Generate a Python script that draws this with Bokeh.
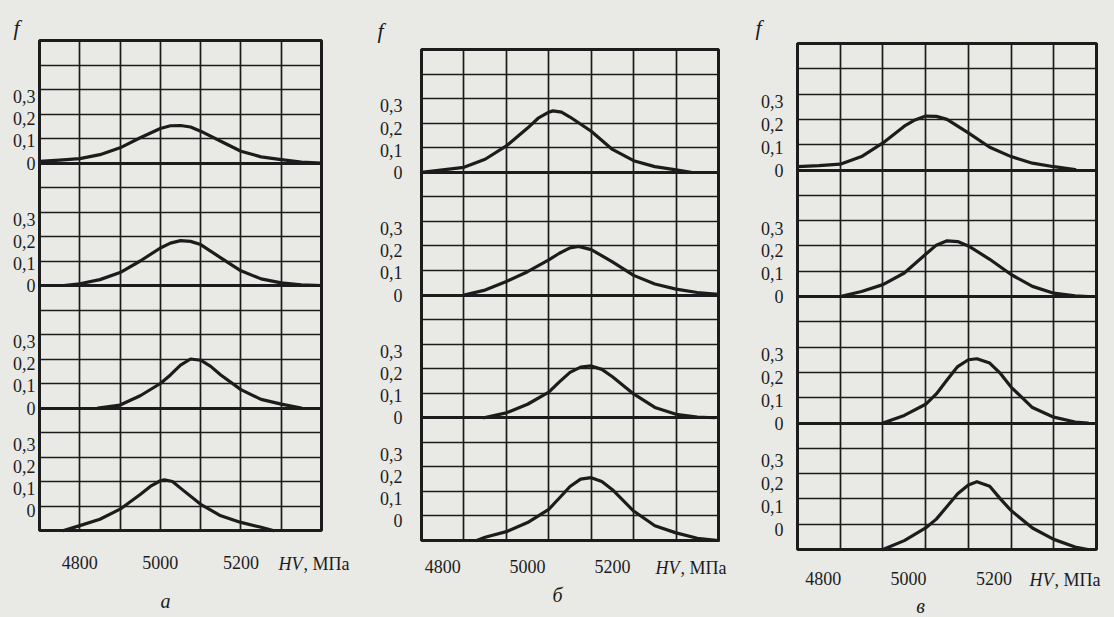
from bokeh.plotting import figure
from bokeh.models import Range1d, FixedTicker, Label, Grid, BoxAnnotation
from bokeh.layouts import row
from bokeh.embed import file_html
from bokeh.resources import INLINE

# ---------------- data (HV, MPa  /  frequency f) ----------------
# panel "а", sections from top to bottom
a1_hv = [4700, 4750, 4800, 4850, 4900, 4950, 5000, 5025, 5050, 5075, 5100, 5150, 5200, 5250, 5300, 5350, 5400]
a1_f = [0.007, 0.012, 0.018, 0.034, 0.062, 0.103, 0.141, 0.152, 0.153, 0.147, 0.13, 0.089, 0.048, 0.025, 0.014, 0.004, 0]
a2_hv = [4760, 4800, 4850, 4900, 4950, 5000, 5025, 5050, 5075, 5100, 5150, 5200, 5250, 5300, 5350, 5400]
a2_f = [0, 0.007, 0.024, 0.053, 0.1, 0.153, 0.173, 0.183, 0.18, 0.167, 0.113, 0.06, 0.027, 0.011, 0.003, 0]
a3_hv = [4845, 4900, 4950, 5000, 5025, 5050, 5075, 5100, 5125, 5150, 5200, 5250, 5300, 5350]
a3_f = [0, 0.012, 0.05, 0.1, 0.135, 0.175, 0.2, 0.195, 0.17, 0.135, 0.075, 0.035, 0.016, 0]
a4_hv = [4760, 4800, 4850, 4900, 4950, 4975, 5000, 5010, 5030, 5050, 5100, 5150, 5200, 5250, 5280]
a4_f = [0, 0.02, 0.046, 0.087, 0.147, 0.18, 0.203, 0.207, 0.2, 0.173, 0.107, 0.06, 0.033, 0.013, 0]

# panel "б"
b1_hv = [4750, 4800, 4850, 4900, 4950, 5000, 5025, 5050, 5060, 5080, 5100, 5150, 5200, 5250, 5300, 5350, 5385]
b1_f = [0, 0.01, 0.02, 0.053, 0.107, 0.18, 0.22, 0.245, 0.25, 0.245, 0.225, 0.167, 0.093, 0.047, 0.023, 0.01, 0]
b2_hv = [4850, 4900, 4950, 5000, 5050, 5075, 5100, 5120, 5150, 5200, 5250, 5300, 5350, 5400, 5450]
b2_f = [0, 0.02, 0.055, 0.095, 0.143, 0.17, 0.192, 0.198, 0.185, 0.135, 0.08, 0.045, 0.024, 0.01, 0.003]
b3_hv = [4897, 4950, 5000, 5050, 5075, 5100, 5125, 5150, 5175, 5200, 5250, 5300, 5350, 5400, 5440]
b3_f = [0, 0.02, 0.055, 0.104, 0.146, 0.185, 0.206, 0.211, 0.197, 0.167, 0.097, 0.042, 0.014, 0.003, 0]
b4_hv = [4880, 4900, 4950, 5000, 5050, 5075, 5100, 5125, 5150, 5175, 5200, 5250, 5300, 5350, 5400, 5450]
b4_f = [0, 0.013, 0.036, 0.073, 0.127, 0.173, 0.22, 0.25, 0.256, 0.24, 0.207, 0.12, 0.06, 0.031, 0.009, 0]

# panel "в"
c1_hv = [4740, 4790, 4840, 4890, 4940, 4990, 5015, 5040, 5065, 5090, 5140, 5190, 5240, 5290, 5340, 5390]
c1_f = [0.013, 0.017, 0.023, 0.053, 0.107, 0.173, 0.198, 0.213, 0.212, 0.2, 0.147, 0.09, 0.053, 0.027, 0.013, 0.002]
c2_hv = [4840, 4890, 4940, 4990, 5040, 5065, 5090, 5115, 5140, 5190, 5240, 5290, 5340, 5390, 5420]
c2_f = [0, 0.02, 0.047, 0.093, 0.167, 0.203, 0.22, 0.217, 0.2, 0.147, 0.087, 0.04, 0.013, 0.003, 0]
c3_hv = [4940, 4990, 5040, 5065, 5090, 5115, 5140, 5160, 5190, 5215, 5240, 5290, 5340, 5390, 5420]
c3_f = [0, 0.03, 0.074, 0.115, 0.17, 0.223, 0.25, 0.254, 0.237, 0.196, 0.142, 0.061, 0.023, 0.004, 0]
c4_hv = [4940, 4990, 5040, 5065, 5090, 5115, 5140, 5160, 5190, 5215, 5240, 5290, 5340, 5390, 5420]
c4_f = [0, 0.035, 0.085, 0.12, 0.17, 0.22, 0.255, 0.268, 0.25, 0.2, 0.154, 0.085, 0.04, 0.01, 0]

x_tick_values = [4800, 5000, 5200]
y_tick_texts = ["0", "0,1", "0,2", "0,3"]
panel_letters = ["а", "б", "в"]
x_title_italic = "HV"
x_title_rest = ", МПа"
y_title = "f"

# ---------------- styling / layout ----------------
FONT = "Liberation Serif"
INK = "#1c1c1c"
PAPER = "#e9e9e6"
SECTION_SPAN = 0.5              # every stacked section spans f = 0 ... 0.5
BASES = [1.5, 1.0, 0.5, 0.0]    # baselines, top to bottom
LABEL_STEP = 0.09               # typeset spacing of the f labels
BOTTOM_LABEL_LIFT = 0.08        # bottom section's labels sit higher in the original
NCOLS = 7
COL = 100
HEIGHT = 615

# box = pixel position of the ruled chart box inside each canvas
panels = [
    dict(curves=[(a1_hv, a1_f), (a2_hv, a2_f), (a3_hv, a3_f), (a4_hv, a4_f)],
         x0=4700, width=350, box=(39, 321, 40, 530),
         ystand=4, xstand=25, f_off=(-23, 13), hv_off=(-43, -33), cap_off=(126, -70)),
    dict(curves=[(b1_hv, b1_f), (b2_hv, b2_f), (b3_hv, b3_f), (b4_hv, b4_f)],
         x0=4750, width=395, box=(71, 368, 49, 540),
         ystand=19, xstand=19, f_off=(-41, 19), hv_off=(-63, -27), cap_off=(136, -54)),
    dict(curves=[(c1_hv, c1_f), (c2_hv, c2_f), (c3_hv, c3_f), (c4_hv, c4_f)],
         x0=4740, width=367, box=(52, 351, 43, 549),
         ystand=14, xstand=22, f_off=(-39, 16), hv_off=(-67, -30), cap_off=(123, -56)),
]

HAS_CROSS = "cross_bounds" in Grid.properties()


def add_rules(p, dim, ticks, cross, width):
    if HAS_CROSS:
        p.add_layout(Grid(dimension=dim, ticker=FixedTicker(ticks=ticks), cross_bounds=cross,
                          grid_line_color=INK, grid_line_width=width, grid_line_alpha=1.0))
    else:
        n = len(ticks)
        if dim == 0:
            p.segment(x0=ticks, x1=ticks, y0=[cross[0]] * n, y1=[cross[1]] * n,
                      line_color=INK, line_width=width)
        else:
            p.segment(x0=[cross[0]] * n, x1=[cross[1]] * n, y0=ticks, y1=ticks,
                      line_color=INK, line_width=width)


figs = []
for k, pd in enumerate(panels):
    x0 = pd["x0"]
    x1 = x0 + NCOLS * COL
    ytop = SECTION_SPAN * len(BASES)
    L, R, T, B = pd["box"]
    W = pd["width"]
    sx = (x1 - x0) / (R - L)
    sy = ytop / (B - T)
    p = figure(width=W, height=HEIGHT, output_backend="svg", toolbar_location=None,
               x_range=Range1d(x0 - L * sx, x0 + (W - L) * sx),
               y_range=Range1d(-(HEIGHT - B) * sy, ytop + T * sy),
               min_border=0)
    p.background_fill_color = PAPER
    p.border_fill_color = PAPER
    p.outline_line_color = None
    for g in p.grid:
        g.visible = False

    # ruled grid of the box
    add_rules(p, 0, [x0 + i * COL for i in range(1, NCOLS)], (0, ytop), 1.7)
    add_rules(p, 1, [round(i * 0.1, 2) for i in range(1, int(round(ytop * 10)))
                     if round(i * 0.1, 2) not in BASES], (x0, x1), 1.7)
    add_rules(p, 1, [b for b in BASES if 0 < b < ytop], (x0, x1), 3)
    p.add_layout(BoxAnnotation(left=x0, right=x1, bottom=0, top=ytop,
                               fill_color=None, fill_alpha=0,
                               line_color=INK, line_alpha=1.0, line_width=3))

    # axes fixed to the box edges
    ticks, overrides = [], {}
    for b in BASES:
        start = b if b > 0 else BOTTOM_LABEL_LIFT
        for i, t in enumerate(y_tick_texts):
            v = round(start + i * LABEL_STEP, 3)
            ticks.append(v)
            overrides[v] = t
    p.yaxis.ticker = FixedTicker(ticks=ticks)
    p.yaxis.major_label_overrides = overrides
    p.yaxis.fixed_location = x0
    p.xaxis.ticker = FixedTicker(ticks=x_tick_values)
    p.xaxis.fixed_location = 0
    for ax in (p.xaxis, p.yaxis):
        ax.axis_line_color = None
        ax.major_tick_line_color = None
        ax.minor_tick_line_color = None
        ax.major_tick_out = 0
        ax.major_tick_in = 0
        ax.major_label_text_font = FONT
        ax.major_label_text_font_size = "18px"
        ax.major_label_text_color = INK
    p.yaxis.major_label_standoff = pd["ystand"]
    p.xaxis.major_label_standoff = pd["xstand"]

    # curves
    for (hv, f), b in zip(pd["curves"], BASES):
        p.line(hv, [b + v for v in f], line_color=INK, line_width=3.2,
               line_join="round", line_cap="round")

    # texts
    p.add_layout(Label(x=x0, y=ytop, x_offset=pd["f_off"][0], y_offset=pd["f_off"][1],
                       text=y_title, text_font=FONT, text_font_style="italic",
                       text_font_size="22px", text_color=INK,
                       text_align="center", text_baseline="middle"))
    p.add_layout(Label(x=x1, y=0, x_offset=pd["hv_off"][0], y_offset=pd["hv_off"][1],
                       text=x_title_italic, text_font=FONT, text_font_style="italic",
                       text_font_size="18px", text_color=INK,
                       text_align="left", text_baseline="middle"))
    p.add_layout(Label(x=x1, y=0, x_offset=pd["hv_off"][0] + 25, y_offset=pd["hv_off"][1],
                       text=x_title_rest, text_font=FONT,
                       text_font_size="18px", text_color=INK,
                       text_align="left", text_baseline="middle"))
    p.add_layout(Label(x=x0, y=0, x_offset=pd["cap_off"][0], y_offset=pd["cap_off"][1],
                       text=panel_letters[k], text_font=FONT, text_font_style="italic",
                       text_font_size="20px", text_color=INK,
                       text_align="center", text_baseline="middle"))
    figs.append(p)

layout = row(*figs, spacing=0)
html = file_html(layout, INLINE)
style = "<style>html, body { background-color: %s !important; }</style>" % PAPER
html = html.replace("</head>", style + "</head>", 1)
open("out.html", "w").write(html)
